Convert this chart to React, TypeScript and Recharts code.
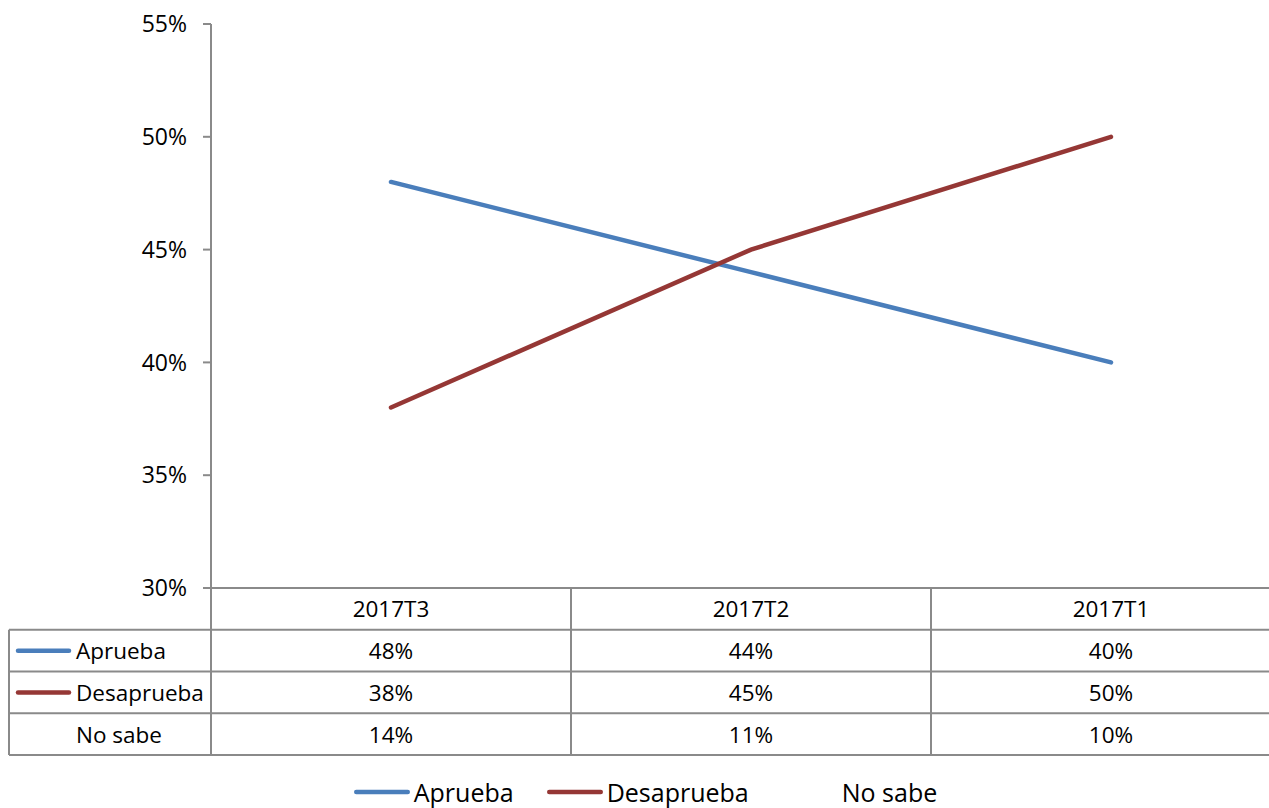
import React from 'react';
import { LineChart, Line, XAxis, YAxis, Legend } from 'recharts';

const categories = ['2017T3', '2017T2', '2017T1'];
const aprueba = [48, 44, 40];
const desaprueba = [38, 45, 50];
const noSabe = [14, 11, 10];
const seriesNames = ['Aprueba', 'Desaprueba', 'No sabe'];
const seriesValues = [aprueba, desaprueba, noSabe];
const yTicks = [30, 35, 40, 45, 50, 55];

const seriesColors: Record<string, string> = {
  Aprueba: '#4A7EBB',
  Desaprueba: '#953735',
  'No sabe': 'none',
};

const data = categories.map((c, i) => ({
  cat: c,
  Aprueba: aprueba[i],
  Desaprueba: desaprueba[i],
  'No sabe': noSabe[i],
}));

const FONT = '"Open Sans", sans-serif';
const GRID = '#8a8a8a';
const TABLE_LEFT = 9;
const ROWS = 4;
const TABLE_FS = 22.5;

const TableTick = (props: any) => {
  const { x, y, index, width, visibleTicksCount, payload } = props;
  const count = visibleTicksCount || categories.length;
  const bw = width ? width / count : 360;
  const axisH = 167;
  const rowH = axisH / ROWS;
  const left = x - bw / 2;
  const right = x + bw / 2;
  const textProps = {
    fontFamily: FONT,
    fontSize: TABLE_FS,
    fill: '#000',
    dominantBaseline: 'central' as const,
  };
  const els: any[] = [];
  els.push(<line key="vl" x1={left} x2={left} y1={y} y2={y + axisH} stroke={GRID} strokeWidth={2} />);
  els.push(<line key="vr" x1={right} x2={right} y1={y} y2={y + axisH} stroke={GRID} strokeWidth={2} />);
  for (let k = 1; k <= ROWS; k++) {
    els.push(
      <line key={'h' + k} x1={left} x2={right} y1={y + rowH * k} y2={y + rowH * k} stroke={GRID} strokeWidth={2} />
    );
  }
  els.push(
    <text key="hdr" x={x} y={y + rowH / 2} textAnchor="middle" {...textProps}>
      {payload.value}
    </text>
  );
  seriesValues.forEach((vals, s) => {
    els.push(
      <text key={'v' + s} x={x} y={y + rowH * (s + 1) + rowH / 2} textAnchor="middle" {...textProps}>
        {vals[index] + '%'}
      </text>
    );
  });
  if (index === 0) {
    els.push(<line key="ll" x1={TABLE_LEFT} x2={TABLE_LEFT} y1={y + rowH} y2={y + axisH} stroke={GRID} strokeWidth={2} />);
    for (let k = 1; k <= ROWS; k++) {
      els.push(
        <line key={'lh' + k} x1={TABLE_LEFT} x2={left} y1={y + rowH * k} y2={y + rowH * k} stroke={GRID} strokeWidth={2} />
      );
    }
    seriesNames.forEach((n, s) => {
      const cy = y + rowH * (s + 1) + rowH / 2;
      const col = seriesColors[n];
      if (col !== 'none') {
        els.push(
          <line key={'lk' + s} x1={TABLE_LEFT + 9} x2={TABLE_LEFT + 60} y1={cy} y2={cy} stroke={col} strokeWidth={4.5} strokeLinecap="round" />
        );
      }
      els.push(
        <text key={'ln' + s} x={TABLE_LEFT + 67} y={cy} textAnchor="start" {...textProps}>
          {n}
        </text>
      );
    });
  }
  return <g>{els}</g>;
};

const LegendContent = (props: any) => {
  const payload = props.payload || [];
  return (
    <div
      style={{
        display: 'flex',
        justifyContent: 'center',
        alignItems: 'center',
        paddingTop: 21,
        height: 53,
        boxSizing: 'border-box',
        fontFamily: FONT,
        fontSize: 25,
        lineHeight: '22px',
        color: '#000',
        whiteSpace: 'nowrap',
      }}
    >
      {payload.map((p: any, i: number) => (
        <div key={i} style={{ display: 'flex', alignItems: 'center', marginLeft: i ? 33 : 0, height: 22 }}>
          <svg width={60} height={10} style={{ display: 'block' }}>
            {p.color && p.color !== 'none' ? (
              <line x1={2.25} x2={53.75} y1={5} y2={5} stroke={p.color} strokeWidth={4.5} strokeLinecap="round" />
            ) : null}
          </svg>
          <span style={{ display: 'inline-block', lineHeight: '22px', height: 22 }}>{p.value}</span>
        </div>
      ))}
    </div>
  );
};

export default function App() {
  return (
    <div style={{ position: 'absolute', left: 0, top: 0, width: 1269, height: 808, overflow: 'hidden', background: '#fff' }}>
      <LineChart width={1300} height={808} data={data} margin={{ top: 24, right: 9, left: 0, bottom: 0 }}>
        <XAxis
          dataKey="cat"
          height={167}
          padding={{ left: 180, right: 180 }}
          tickSize={0}
          tickMargin={0}
          tickLine={false}
          interval={0}
          axisLine={{ stroke: GRID, strokeWidth: 2 }}
          tick={<TableTick />}
        />
        <YAxis
          type="number"
          width={211}
          domain={[30, 55]}
          ticks={yTicks}
          allowDataOverflow
          tickSize={8}
          tickMargin={16}
          tickFormatter={(v: number) => `${v}%`}
          axisLine={{ stroke: GRID, strokeWidth: 2 }}
          tickLine={{ stroke: GRID, strokeWidth: 2 }}
          tick={{ fontFamily: FONT, fontSize: 23, fill: '#000' }}
        />
        <Legend verticalAlign="bottom" height={53} content={<LegendContent />} />
        <Line
          dataKey="Aprueba"
          stroke={seriesColors.Aprueba}
          strokeWidth={4.5}
          strokeLinecap="round"
          dot={false}
          activeDot={false}
          isAnimationActive={false}
        />
        <Line
          dataKey="Desaprueba"
          stroke={seriesColors.Desaprueba}
          strokeWidth={4.5}
          strokeLinecap="round"
          dot={false}
          activeDot={false}
          isAnimationActive={false}
        />
        <Line
          dataKey="No sabe"
          stroke={seriesColors['No sabe']}
          strokeWidth={4.5}
          dot={false}
          activeDot={false}
          isAnimationActive={false}
        />
      </LineChart>
    </div>
  );
}
